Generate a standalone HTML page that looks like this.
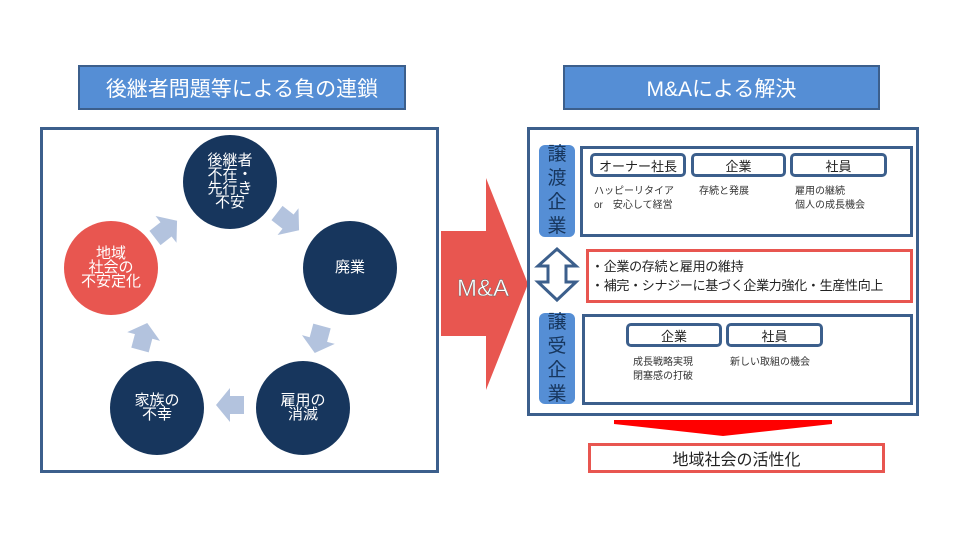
<!DOCTYPE html>
<html><head><meta charset="utf-8"><style>
body{margin:0;width:960px;height:540px;background:#fff;position:relative;overflow:hidden;font-family:"Liberation Sans","Noto Sans CJK JP",sans-serif}
.a{position:absolute;box-sizing:border-box;white-space:nowrap}
.title{background:#558ed5;border:2px solid #3c5f8c;color:#fff;font-size:21px;display:flex;align-items:center;justify-content:center}
.frame{border:3px solid #3c5f8c}
.c{position:absolute;border-radius:50%;background:#17365d;color:#fff;font-size:15px;line-height:14px;display:flex;align-items:center;justify-content:center;text-align:center}
.tag{background:#558ed5;border-radius:6px;color:#17365d;font-size:19px;line-height:24px;text-align:center;display:flex;align-items:center;justify-content:center}
.pill{border:3px solid #3c5f8c;border-radius:5px;font-size:13px;display:flex;align-items:center;justify-content:center;color:#222}
.s{font-size:10px;color:#333;line-height:14px}
</style></head><body>
<div class="a title" style="left:78px;top:65px;width:328px;height:45px">後継者問題等による負の連鎖</div>
<div class="a title" style="left:563px;top:65px;width:317px;height:45px">M&amp;Aによる解決</div>
<div class="a frame" style="left:40px;top:127px;width:399px;height:346px"></div>
<svg class="a" style="left:0;top:0" width="960" height="540">
<g fill="#b3c3de">
<polygon points="0,-9 14,-9 14,-17 28,0 14,17 14,9 0,9" transform="translate(155,238) rotate(-38)"/>
<polygon points="0,-9 14,-9 14,-17 28,0 14,17 14,9 0,9" transform="translate(277,213) rotate(38)"/>
<polygon points="0,-9 14,-9 14,-17 28,0 14,17 14,9 0,9" transform="translate(322,326) rotate(105)"/>
<polygon points="0,-9 14,-9 14,-17 28,0 14,17 14,9 0,9" transform="translate(244,405) rotate(180)"/>
<polygon points="0,-9 14,-9 14,-17 28,0 14,17 14,9 0,9" transform="translate(140,350) rotate(-75)"/>
</g>
<polygon points="441,231 486,231 486,178 528,284 486,390 486,336 441,336" fill="#e85650"/>
<text x="483" y="296" fill="#fff" stroke="#666" stroke-width="0.4" font-size="24" text-anchor="middle" font-family="Liberation Sans">M&amp;A</text>
<polygon points="557,249 576,266 566,266 566,282 576,282 557,300 538,282 548,282 548,266 538,266" fill="#fff" stroke="#3c5f8c" stroke-width="3"/>
<polygon points="614,420 832,420 832,424 723,436 614,424" fill="#ff0000"/>
</svg>
<div class="c" style="left:183px;top:135px;width:94px;height:94px">後継者<br>不在・<br>先行き<br>不安</div>
<div class="c" style="left:303px;top:221px;width:94px;height:94px">廃業</div>
<div class="c" style="left:256px;top:361px;width:94px;height:94px">雇用の<br>消滅</div>
<div class="c" style="left:110px;top:361px;width:94px;height:94px">家族の<br>不幸</div>
<div class="c" style="left:64px;top:221px;width:94px;height:94px;background:#e85650">地域<br>社会の<br>不安定化</div>

<div class="a frame" style="left:527px;top:127px;width:392px;height:289px"></div>
<div class="a tag" style="left:539px;top:145px;width:36px;height:92px">譲<br>渡<br>企<br>業</div>
<div class="a tag" style="left:539px;top:313px;width:36px;height:91px">譲<br>受<br>企<br>業</div>
<div class="a frame" style="left:580px;top:146px;width:333px;height:91px"></div>
<div class="a pill" style="left:590px;top:153px;width:96px;height:24px">オーナー社長</div>
<div class="a pill" style="left:691px;top:153px;width:95px;height:24px">企業</div>
<div class="a pill" style="left:790px;top:153px;width:97px;height:24px">社員</div>
<div class="a s" style="left:594px;top:185px">ハッピーリタイア<br>or　安心して経営</div>
<div class="a s" style="left:699px;top:185px">存続と発展</div>
<div class="a s" style="left:795px;top:185px">雇用の継続<br>個人の成長機会</div>
<div class="a" style="left:586px;top:249px;width:327px;height:54px;border:3px solid #e85650;font-size:13px;line-height:19px;padding:5px 0 0 2px;color:#222;letter-spacing:-0.3px">・企業の存続と雇用の維持<br>・補完・シナジーに基づく企業力強化・生産性向上</div>
<div class="a frame" style="left:582px;top:314px;width:331px;height:91px"></div>
<div class="a pill" style="left:626px;top:323px;width:96px;height:24px">企業</div>
<div class="a pill" style="left:726px;top:323px;width:97px;height:24px">社員</div>
<div class="a s" style="left:633px;top:356px">成長戦略実現<br>閉塞感の打破</div>
<div class="a s" style="left:730px;top:356px">新しい取組の機会</div>
<div class="a" style="left:588px;top:443px;width:297px;height:30px;border:3px solid #e85650;font-size:16px;display:flex;align-items:center;justify-content:center;color:#222">地域社会の活性化</div>
</body></html>
